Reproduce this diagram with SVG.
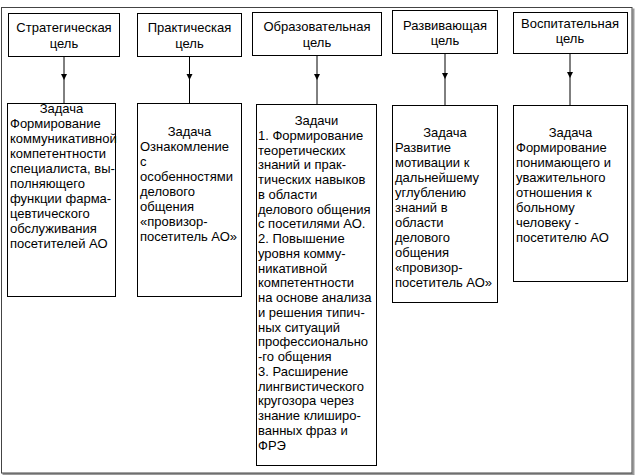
<svg xmlns="http://www.w3.org/2000/svg" width="636" height="476" viewBox="0 0 636 476">
<defs>
<marker id="ah" markerWidth="8" markerHeight="8" refX="6" refY="3" orient="auto" markerUnits="userSpaceOnUse">
<path d="M0,0 L6,3 L0,6 Z" fill="#000"/>
</marker>
<style>
.box{fill:#fff;stroke:#000;stroke-width:1}
text{font-family:"Liberation Sans",Arial,sans-serif;font-size:13px;fill:#000}
.c{text-anchor:middle}
.con{fill:none;stroke:#000;stroke-width:1}
</style>
</defs>
<rect x="0" y="0" width="636" height="476" fill="#fff"/>
<g id="frame">
<path d="M2.5,474 H633.5 V8.5" fill="none" stroke="#999" stroke-width="2"/>
<rect x="1.5" y="7.5" width="630.5" height="465.5" fill="none" stroke="#444" stroke-width="1"/>
</g>
<g id="connectors">
<path class="con" d="M64,56 L64,80 L64,103" marker-mid="url(#ah)"/>
<path class="con" d="M189.5,57 L189.5,80 L189.5,103" marker-mid="url(#ah)"/>
<path class="con" d="M317,55 L317,80 L317,104" marker-mid="url(#ah)"/>
<path class="con" d="M445,54 L445,79 L445,105" marker-mid="url(#ah)"/>
<path class="con" d="M570,53 L570,78 L570,105" marker-mid="url(#ah)"/>
</g>
<g id="goal1">
<rect class="box" x="8.5" y="13.5" width="111" height="43"/>
<text class="c" x="64" y="32">Стратегическая</text>
<text class="c" x="64" y="48">цель</text>
</g>
<g id="goal2">
<rect class="box" x="137.5" y="13.5" width="104" height="43"/>
<text class="c" x="189.5" y="32">Практическая</text>
<text class="c" x="189.5" y="48">цель</text>
</g>
<g id="goal3">
<rect class="box" x="252.5" y="12.5" width="129" height="43"/>
<text class="c" x="317" y="31">Образовательная</text>
<text class="c" x="317" y="47">цель</text>
</g>
<g id="goal4">
<rect class="box" x="392.5" y="10.5" width="105" height="43"/>
<text class="c" x="445" y="30">Развивающая</text>
<text class="c" x="445" y="45">цель</text>
</g>
<g id="goal5">
<rect class="box" x="513.5" y="12.5" width="114" height="41"/>
<text class="c" x="570" y="28">Воспитательная</text>
<text class="c" x="570" y="43">цель</text>
</g>
<g id="task1">
<rect class="box" x="7.5" y="103.5" width="108" height="193"/>
<text class="c" x="61.5" y="113">Задача</text>
<text x="10" y="128">Формирование</text>
<text x="10" y="143">коммуникативной</text>
<text x="10" y="158">компетентности</text>
<text x="10" y="173">специалиста, вы-</text>
<text x="10" y="188">полняющего</text>
<text x="10" y="203">функции фарма-</text>
<text x="10" y="218">цевтического</text>
<text x="10" y="233">обслуживания</text>
<text x="10" y="248">посетителей АО</text>
</g>
<g id="task2">
<rect class="box" x="137.5" y="103.5" width="104" height="193"/>
<text class="c" x="189.5" y="136">Задача</text>
<text x="140" y="151">Ознакомление</text>
<text x="140" y="166">с</text>
<text x="140" y="181">особенностями</text>
<text x="140" y="196">делового</text>
<text x="140" y="211">общения</text>
<text x="140" y="226">«провизор-</text>
<text x="140" y="241">посетитель АО»</text>
</g>
<g id="task3">
<rect class="box" x="256.5" y="104.5" width="120" height="361"/>
<text class="c" x="316.5" y="125">Задачи</text>
<text x="258" y="139.75">1. Формирование</text>
<text x="258" y="154.5">теоретических</text>
<text x="258" y="169.25">знаний и прак-</text>
<text x="258" y="184">тических навыков</text>
<text x="258" y="198.75">в области</text>
<text x="258" y="213.5">делового общения</text>
<text x="258" y="228.25">с посетилями АО.</text>
<text x="258" y="243">2. Повышение</text>
<text x="258" y="257.75">уровня комму-</text>
<text x="258" y="272.5">никативной</text>
<text x="258" y="287.25">компетентности</text>
<text x="258" y="302">на основе анализа</text>
<text x="258" y="316.75">и решения типич-</text>
<text x="258" y="331.5">ных ситуаций</text>
<text x="258" y="346.25">профессионально</text>
<text x="258" y="361">-го общения</text>
<text x="258" y="375.75">3. Расширение</text>
<text x="258" y="390.5">лингвистического</text>
<text x="258" y="405.25">кругозора через</text>
<text x="258" y="420">знание клиширо-</text>
<text x="258" y="434.75">ванных фраз и</text>
<text x="258" y="449.5">ФРЭ</text>
</g>
<g id="task4">
<rect class="box" x="392.5" y="105.5" width="105" height="197"/>
<text class="c" x="445" y="137">Задача</text>
<text x="395" y="152">Развитие</text>
<text x="395" y="167">мотивации к</text>
<text x="395" y="182">дальнейшему</text>
<text x="395" y="197">углублению</text>
<text x="395" y="212">знаний в</text>
<text x="395" y="227">области</text>
<text x="395" y="242">делового</text>
<text x="395" y="257">общения</text>
<text x="395" y="272">«провизор-</text>
<text x="395" y="287">посетитель АО»</text>
</g>
<g id="task5">
<rect class="box" x="513.5" y="105.5" width="114" height="176"/>
<text class="c" x="570.5" y="137">Задача</text>
<text x="516" y="152">Формирование</text>
<text x="516" y="167">понимающего и</text>
<text x="516" y="182">уважительного</text>
<text x="516" y="197">отношения к</text>
<text x="516" y="212">больному</text>
<text x="516" y="227">человеку -</text>
<text x="516" y="242">посетителю АО</text>
</g>
</svg>
